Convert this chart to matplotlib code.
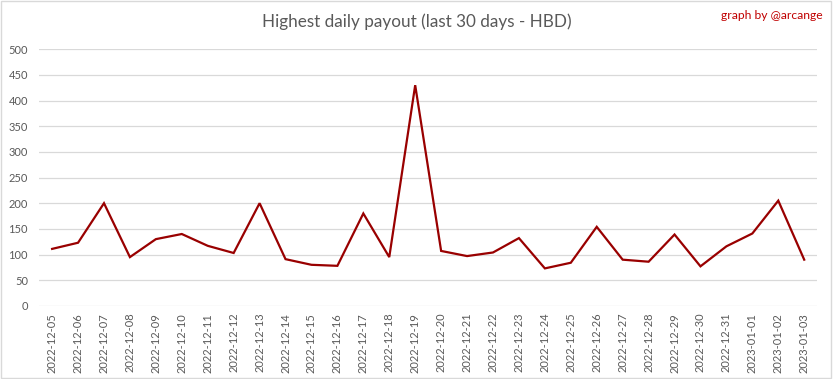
import matplotlib.pyplot as plt
from matplotlib.patches import Rectangle

dates = ['2022-12-05', '2022-12-06', '2022-12-07', '2022-12-08', '2022-12-09',
         '2022-12-10', '2022-12-11', '2022-12-12', '2022-12-13', '2022-12-14',
         '2022-12-15', '2022-12-16', '2022-12-17', '2022-12-18', '2022-12-19',
         '2022-12-20', '2022-12-21', '2022-12-22', '2022-12-23', '2022-12-24',
         '2022-12-25', '2022-12-26', '2022-12-27', '2022-12-28', '2022-12-29',
         '2022-12-30', '2022-12-31', '2023-01-01', '2023-01-02', '2023-01-03']
payout = [111, 123, 200, 95, 130, 140, 117, 103, 200, 91,
          80, 78, 180, 95, 430, 107, 97, 104, 132, 73,
          84, 154, 90, 86, 139, 77, 116, 141, 205, 90]
y_ticks = [0, 50, 100, 150, 200, 250, 300, 350, 400, 450, 500]

plt.rcParams['font.family'] = ['Lato', 'DejaVu Sans']

fig = plt.figure(figsize=(8.33, 3.79), dpi=100)
ax = fig.add_axes([0.047, 0.193, 0.934, 0.677])

x = list(range(len(dates)))
ax.plot(x, payout, color='#990000', linewidth=1.6, solid_joinstyle='miter')

ax.set_xlim(-0.5, len(dates) - 0.5)
ax.set_ylim(0, 500)
ax.set_yticks(y_ticks)
ax.set_xticks(x)
ax.set_xticklabels(dates, rotation=90)
ax.tick_params(axis='both', length=0, colors='#595959', labelsize=8)
ax.tick_params(axis='x', pad=5)
ax.tick_params(axis='y', pad=8)
ax.grid(axis='y', color='#d9d9d9', linewidth=0.9)
ax.set_axisbelow(True)
for s in ax.spines.values():
    s.set_visible(False)

fig.text(0.5, 0.942, 'Highest daily payout (last 30 days - HBD)', ha='center', va='center',
         fontsize=12.3, color='#595959')
fig.text(0.987, 0.958, 'graph by @arcange', ha='right', va='center', fontsize=8.7, color='#c00000')

# light frame round the whole chart
fig.patches.append(Rectangle((0.001, 0.002), 0.997, 0.995, transform=fig.transFigure,
                             fill=False, edgecolor='#d9d9d9', linewidth=1))

fig.savefig('out.png', dpi=100)
